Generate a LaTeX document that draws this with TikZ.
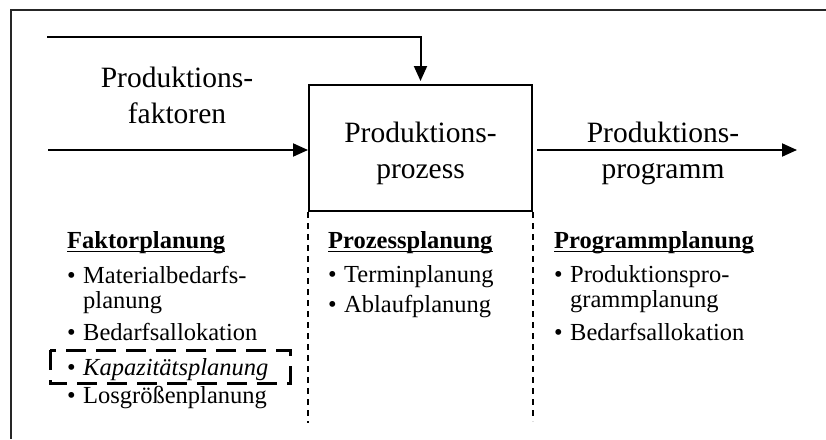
\documentclass[tikz,border=0pt]{standalone}
\usepackage{fontspec}
\setmainfont{Liberation Serif}
\usetikzlibrary{arrows.meta}

% bullet followed by a fixed gap, text may span several lines
\newcommand{\itm}[1]{\makebox[16pt][l]{\textbullet}#1}
\newcommand{\twolines}[2]{\begin{tabular}[t]{@{}l@{}}#1\\#2\end{tabular}}

\tikzset{
  flow/.style={line width=2pt, -{Triangle[length=15pt,width=13pt]}},
  procbox/.style={draw, line width=2pt, minimum width=223pt, minimum height=126pt, inner sep=0pt},
  % base anchor of a two-line label sits on its last line
  biglabel/.style={align=center, inner sep=0pt, anchor=base, font=\fontsize{29.5}{35.5}\selectfont},
  colhead/.style={inner sep=0pt, anchor=base west, font=\fontsize{24.5}{25.5}\selectfont\bfseries},
  listitem/.style={inner sep=0pt, anchor=base west, font=\fontsize{24.5}{25.5}\selectfont},
  underl/.style={line width=1.8pt},
  colsep/.style={line width=1.5pt, dash pattern=on 6pt off 5pt},
  highlight/.style={line width=3pt, dash pattern=on 20pt off 10pt},
  frameline/.style={line width=2pt, black!85},
}

\begin{document}
\begin{tikzpicture}[x=1pt, y=-1pt]
  \useasboundingbox (0,0) rectangle (826,439);

  % outer frame (top and left edges)
  \draw[frameline] (826,10) -- (10.5,10) -- (10.5,439);

  % central process box
  \node[procbox] (prozess) at (420.5,148) {};
  \node[biglabel] (prozesstext) at (420.5,178) {Produktions-\\prozess};

  % inputs from the left and from above
  \coordinate (topin) at (47,37);
  \coordinate (leftin) at (48,150);
  \draw[flow] (topin) -| ([yshift=3pt]prozess.north);
  \draw[flow] (leftin) -- (leftin -| prozess.west);
  \node[biglabel] (faktoren) at (177,123) {Produktions-\\faktoren};

  % output to the right
  \coordinate (rightout) at (797,150);
  \draw[flow] ([xshift=4pt]rightout -| prozess.east) -- (rightout);
  \node[biglabel] (programm) at (663,178) {Produktions-\\programm};

  % column separators
  \draw[colsep] (prozess.south west) -- ++(0,211);
  \draw[colsep] (prozess.south east) -- ++(0,209);

  % column headings
  \node[colhead] (h1) at (67,248) {Faktorplanung};
  \node[colhead] (h2) at (328,248) {Prozessplanung};
  \node[colhead] (h3) at (554,248) {Programmplanung};
  \foreach \h in {h1,h2,h3}
    \draw[underl] ([yshift=-3.5pt]\h.base west) -- ([yshift=-3.5pt]\h.base east);

  % factor planning
  \node[listitem] (f1) at (67,283) {\itm{\twolines{Materialbedarfs-}{planung}}};
  \node[listitem] (f2) at (67,340) {\itm{Bedarfsallokation}};
  \node[listitem] (f3) at (67,375) {\itm{\itshape Kapazitätsplanung}};
  \node[listitem] (f4) at (67,403) {\itm{Losgrößenplanung}};
  \draw[highlight] (50,350) rectangle (290,383);

  % process planning
  \node[listitem] (p1) at (328,282) {\itm{Terminplanung}};
  \node[listitem] (p2) at (328,312) {\itm{Ablaufplanung}};

  % programme planning
  \node[listitem] (g1) at (554,282) {\itm{\twolines{Produktionspro-}{grammplanung}}};
  \node[listitem] (g2) at (554,340) {\itm{Bedarfsallokation}};
\end{tikzpicture}
\end{document}
